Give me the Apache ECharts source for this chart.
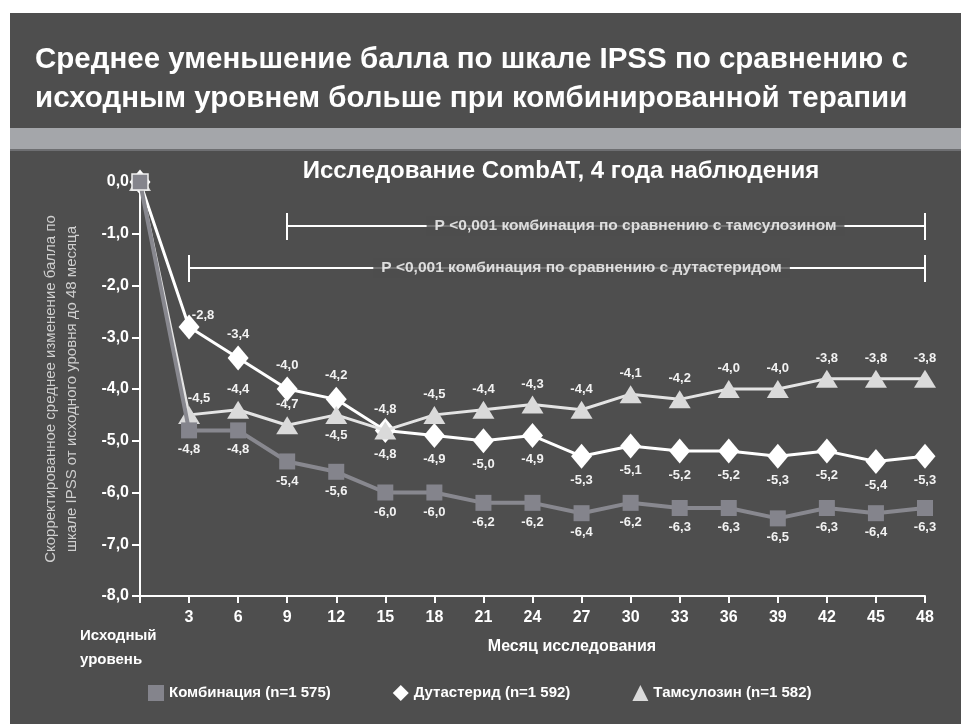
<!DOCTYPE html>
<html>
<head>
<meta charset="utf-8">
<script src="https://cdn.jsdelivr.net/npm/echarts@6/dist/echarts.min.js"></script>
<style>
  html, body { margin: 0; padding: 0; background: #fff; }
  #chart { width: 961px; height: 724px; }
</style>
</head>
<body>
<div id="chart"></div>
<script>
  // months of the study (0 = baseline)
  var months = [0, 3, 6, 9, 12, 15, 18, 21, 24, 27, 30, 33, 36, 39, 42, 45, 48];
  var combination = [0, -4.8, -4.8, -5.4, -5.6, -6.0, -6.0, -6.2, -6.2, -6.4, -6.2, -6.3, -6.3, -6.5, -6.3, -6.4, -6.3];
  var dutasteride = [0, -2.8, -3.4, -4.0, -4.2, -4.8, -4.9, -5.0, -4.9, -5.3, -5.1, -5.2, -5.2, -5.3, -5.2, -5.4, -5.3];
  var tamsulosin = [0, -4.5, -4.4, -4.7, -4.5, -4.8, -4.5, -4.4, -4.3, -4.4, -4.1, -4.2, -4.0, -4.0, -3.8, -3.8, -3.8];
  var seriesNames = ['Комбинация (n=1 575)', 'Дутастерид (n=1 592)', 'Тамсулозин (n=1 582)'];

  // significance brackets
  var bracketStart = [9, 3];
  var bracketEnd = 48;
  var bracketLevel = [-0.85, -1.66];
  var bracketTextX = [30.3, 27.0];
  var bracketText = ['P <0,001 комбинация по сравнению с тамсулозином', 'P <0,001 комбинация по сравнению с дутастеридом'];

  var FONT = 'Liberation Sans, Arial, sans-serif';
  var BG = '#4e4e4e';

  function fmt(v) {
    return v.toFixed(1).replace('.', ',');
  }

  function build(values, posFn, offFn) {
    return values.map(function (v, i) {
      var item = { value: [months[i], v] };
      if (i === 0) {
        item.label = { show: false };
      } else {
        item.label = { position: posFn(months[i]), offset: offFn ? offFn(months[i]) : [0, 0] };
      }
      return item;
    });
  }

  var combData = build(combination, function () { return 'bottom'; });
  combData[0].itemStyle = { borderColor: '#f0f0f0', borderWidth: 1.5 };
  combData[0].symbolSize = 16;
  var dutaData = build(dutasteride,
    function (m) { return m < 15 ? 'top' : 'bottom'; },
    function (m) { return m === 3 ? [14, 13] : [0, 0]; });
  var tamsData = build(tamsulosin,
    function (m) { return m === 12 ? 'bottom' : 'top'; },
    function (m) { return m === 3 ? [10, 4] : [0, 0]; });

  var labelStyle = {
    show: true,
    color: '#f2f2f2',
    fontSize: 13,
    fontWeight: 'bold',
    fontFamily: FONT,
    distance: 5,
    formatter: function (p) { return fmt(p.value[1]); }
  };

  var bracketLines = [];
  bracketStart.forEach(function (s, i) {
    var y = bracketLevel[i];
    bracketLines.push([{ coord: [s, y] }, { coord: [bracketEnd, y] }]);
    bracketLines.push([{ coord: [s, y + 0.25] }, { coord: [s, y - 0.27] }]);
    bracketLines.push([{ coord: [bracketEnd, y + 0.25] }, { coord: [bracketEnd, y - 0.27] }]);
  });

  var chart = echarts.init(document.getElementById('chart'));
  var option = {
    backgroundColor: '#ffffff',
    animation: false,
    graphic: [
      { type: 'rect', z: -10, shape: { x: 10, y: 13, width: 951, height: 711 }, style: { fill: BG } },
      { type: 'rect', z: -9, shape: { x: 10, y: 128, width: 951, height: 22 }, style: { fill: '#a4a6aa' } },
      { type: 'rect', z: -9, shape: { x: 10, y: 149, width: 951, height: 2 }, style: { fill: '#6e6f72' } }
    ],
    title: [
      {
        text: 'Среднее уменьшение балла по шкале IPSS по сравнению с\nисходным уровнем больше при комбинированной терапии',
        left: 35, top: 40, padding: 0,
        textStyle: { color: '#ffffff', fontSize: 29.5, fontWeight: 'bold', fontFamily: FONT, lineHeight: 39 }
      },
      {
        text: 'Исследование CombAT, 4 года наблюдения',
        left: 561, top: 159, padding: 0, textAlign: 'center',
        textStyle: { color: '#ffffff', fontSize: 24, fontWeight: 'bold', fontFamily: FONT }
      },
      {
        text: 'Месяц исследования',
        left: 572, top: 639, padding: 0, textAlign: 'center',
        textStyle: { color: '#ffffff', fontSize: 16, fontWeight: 'bold', fontFamily: FONT }
      },
      {
        text: 'Исходный\nуровень',
        left: 80, top: 624, padding: 0,
        textStyle: { color: '#ffffff', fontSize: 15, fontWeight: 'bold', fontFamily: FONT, lineHeight: 24 }
      }
    ],
    legend: {
      left: 143, top: 680,
      itemGap: 62, itemWidth: 16, itemHeight: 16,
      textStyle: { color: '#ffffff', fontSize: 15, fontWeight: 'bold', fontFamily: FONT },
      data: [
        { name: seriesNames[0], icon: 'rect' },
        { name: seriesNames[1], icon: 'diamond' },
        { name: seriesNames[2], icon: 'triangle' }
      ]
    },
    grid: { left: 140, right: 36, top: 182, bottom: 128, containLabel: false },
    xAxis: {
      type: 'value', min: 0, max: 48, interval: 3,
      axisLine: { show: true, onZero: false, lineStyle: { color: '#ffffff', width: 2 } },
      axisTick: { show: true, length: 7, lineStyle: { color: '#ffffff', width: 2 } },
      splitLine: { show: false },
      axisLabel: {
        color: '#ffffff', fontSize: 16, fontWeight: 'bold', fontFamily: FONT, margin: 14,
        formatter: function (v) { return v === 0 ? '' : v; }
      }
    },
    yAxis: {
      type: 'value', min: -8, max: 0, interval: 1,
      name: 'Скорректированное среднее изменение балла по\nшкале IPSS от исходного уровня до 48 месяца',
      nameLocation: 'middle', nameRotate: 90, nameGap: 58,
      nameTextStyle: { color: '#cfcfcf', fontSize: 15, fontFamily: FONT, lineHeight: 21 },
      axisLine: { show: true, onZero: false, lineStyle: { color: '#ffffff', width: 2 } },
      axisTick: { show: true, length: 8, lineStyle: { color: '#ffffff', width: 2 } },
      splitLine: { show: false },
      axisLabel: {
        color: '#ffffff', fontSize: 16, fontWeight: 'bold', fontFamily: FONT, margin: 11,
        formatter: function (v) { return fmt(v); }
      }
    },
    series: [
      {
        name: seriesNames[1], type: 'line', z: 3,
        symbol: 'diamond', symbolSize: [21, 25],
        itemStyle: { color: '#ffffff' },
        lineStyle: { color: '#ffffff', width: 3 },
        label: labelStyle,
        data: dutaData
      },
      {
        name: seriesNames[2], type: 'line', z: 4,
        symbol: 'triangle', symbolSize: [22, 18],
        itemStyle: { color: '#dadada' },
        lineStyle: { color: '#e4e4e4', width: 3 },
        label: labelStyle,
        data: tamsData
      },
      {
        name: seriesNames[0], type: 'line', z: 5,
        symbol: 'rect', symbolSize: 16,
        itemStyle: { color: '#84848c' },
        lineStyle: { color: '#88888f', width: 4 },
        label: labelStyle,
        data: combData
      },
      {
        name: 'brackets', type: 'line', z: 2, silent: true,
        data: [],
        markLine: {
          silent: true, symbol: 'none', animation: false, z: 2,
          lineStyle: { color: '#ffffff', width: 2, type: 'solid' },
          label: { show: false },
          data: bracketLines
        }
      },
      {
        name: 'bracketText', type: 'scatter', z: 10, silent: true,
        symbolSize: 0,
        label: {
          show: true, position: 'inside',
          color: '#ffffff', fontSize: 15.5, fontWeight: 'bold', fontFamily: FONT,
          backgroundColor: BG, padding: [2, 8],
          formatter: function (p) { return bracketText[p.dataIndex]; }
        },
        data: bracketTextX.map(function (x, i) { return [x, bracketLevel[i]]; })
      }
    ]
  };
  chart.setOption(option);
</script>
</body>
</html>
